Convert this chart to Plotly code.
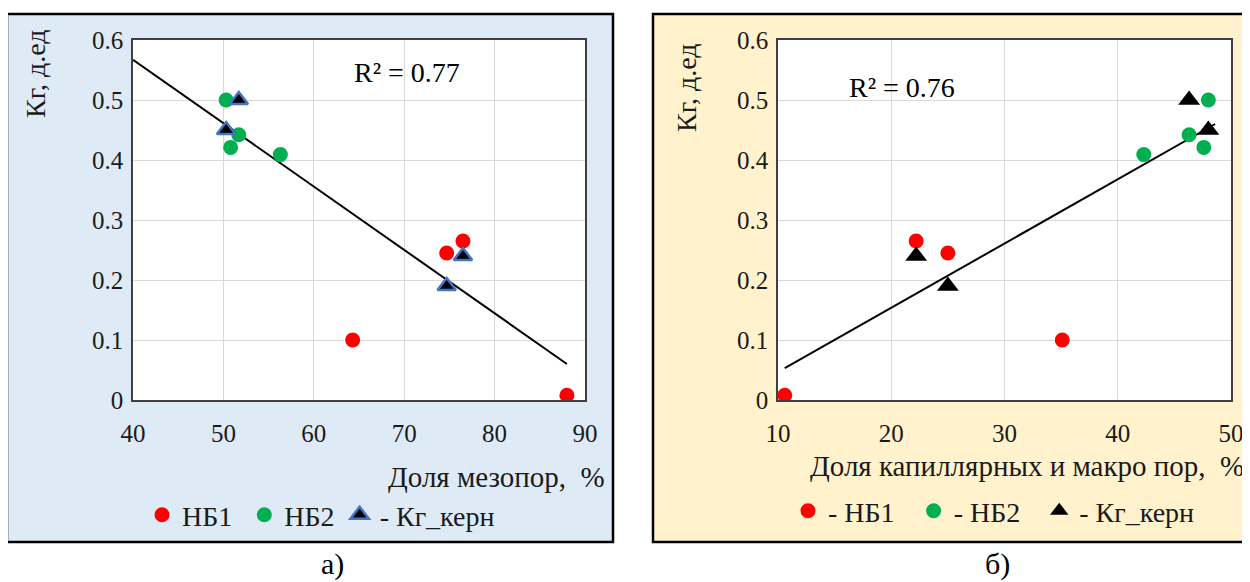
import plotly.graph_objects as go

# ---- data ----
# panel a) : mesopore share
a_nb1_x = [76.5, 74.7, 64.3, 88.0]
a_nb1_y = [0.265, 0.245, 0.100, 0.008]
a_nb2_x = [50.3, 51.7, 50.8, 56.3]
a_nb2_y = [0.500, 0.442, 0.421, 0.409]
a_core_x = [51.7, 50.3, 76.5, 74.7]
a_core_y = [0.500, 0.450, 0.240, 0.190]
a_trend_x = [40.0, 88.0]
a_trend_y = [0.567, 0.060]
a_r2 = "R² = 0.77"

# panel б) : capillary and macro pore share
b_nb1_x = [22.2, 25.0, 35.1, 10.6]
b_nb1_y = [0.265, 0.245, 0.100, 0.008]
b_nb2_x = [48.0, 46.3, 47.6, 42.3]
b_nb2_y = [0.500, 0.442, 0.421, 0.409]
b_core_x = [46.3, 48.0, 22.2, 25.0]
b_core_y = [0.500, 0.450, 0.240, 0.190]
b_trend_x = [10.6, 48.6]
b_trend_y = [0.053, 0.460]
b_r2 = "R² = 0.76"

y_ticks = [0, 0.1, 0.2, 0.3, 0.4, 0.5, 0.6]
y_ticklabels = ["0", "0.1", "0.2", "0.3", "0.4", "0.5", "0.6"]

W, H = 1250, 582
OFF = 8  # page body margin of the html page
FONT = "Liberation Serif"
TXT = "#1a1a1a"
RED = "#FF0000"
GREEN = "#00B050"
BLUE = "#4472C4"
NB = "\u00a0"


def px(x):
    return (x - OFF) / W


def py(y):
    return 1 - (y - OFF) / H


fig = go.Figure()

# panel a traces
fig.add_trace(go.Scatter(x=a_trend_x, y=a_trend_y, mode="lines", line=dict(color="black", width=2),
                         showlegend=False, hoverinfo="skip", xaxis="x", yaxis="y"))
fig.add_trace(go.Scatter(x=a_nb1_x, y=a_nb1_y, mode="markers", name="НБ1" + NB,
                         marker=dict(color=RED, size=15, symbol="circle"), xaxis="x", yaxis="y", legend="legend"))
fig.add_trace(go.Scatter(x=a_nb2_x, y=a_nb2_y, mode="markers", name="НБ2",
                         marker=dict(color=GREEN, size=15, symbol="circle"), xaxis="x", yaxis="y", legend="legend"))
fig.add_trace(go.Scatter(x=a_core_x, y=a_core_y, mode="markers", name="- Кг_керн",
                         marker=dict(color="black", size=16, symbol="triangle-up", line=dict(color=BLUE, width=2.5)),
                         xaxis="x", yaxis="y", legend="legend"))

# panel b traces
fig.add_trace(go.Scatter(x=b_trend_x, y=b_trend_y, mode="lines", line=dict(color="black", width=2),
                         showlegend=False, hoverinfo="skip", xaxis="x2", yaxis="y2"))
fig.add_trace(go.Scatter(x=b_nb1_x, y=b_nb1_y, mode="markers", name="- НБ1" + NB * 2,
                         marker=dict(color=RED, size=15, symbol="circle"), xaxis="x2", yaxis="y2", legend="legend2"))
fig.add_trace(go.Scatter(x=b_nb2_x, y=b_nb2_y, mode="markers", name="- НБ2" + NB * 2,
                         marker=dict(color=GREEN, size=15, symbol="circle"), xaxis="x2", yaxis="y2", legend="legend2"))
fig.add_trace(go.Scatter(x=b_core_x, y=b_core_y, mode="markers", name="- Кг_керн",
                         marker=dict(color="black", size=19, symbol="triangle-up", line=dict(color="black", width=0)),
                         xaxis="x2", yaxis="y2", legend="legend2"))

axis_common = dict(showgrid=True, gridcolor="#D9D9D9", gridwidth=1, zeroline=False, automargin=False,
                   showline=True, linecolor="#404040", linewidth=1.5, mirror=True,
                   ticks="", tickfont=dict(family=FONT, size=25, color=TXT))

fig.update_layout(
    template="none",
    width=W, height=H, autosize=False,
    margin=dict(l=0, r=0, t=0, b=0, pad=0, autoexpand=False),
    paper_bgcolor="white",
    plot_bgcolor="rgba(0,0,0,0)",
    font=dict(family=FONT, color=TXT),
    xaxis=dict(domain=[px(133), px(585)], range=[40, 90], dtick=10, tick0=40, anchor="y",
               ticklabelstandoff=10, **axis_common),
    yaxis=dict(domain=[py(400), py(40)], range=[0, 0.6], tickvals=y_ticks, ticktext=y_ticklabels,
               anchor="x", ticklabelstandoff=3, **axis_common),
    xaxis2=dict(domain=[px(778), px(1231)], range=[10, 50], dtick=10, tick0=10, anchor="y2",
                ticklabelstandoff=10, **axis_common),
    yaxis2=dict(domain=[py(400), py(40)], range=[0, 0.6], tickvals=y_ticks, ticktext=y_ticklabels,
                anchor="x2", ticklabelstandoff=3, **axis_common),
    legend=dict(orientation="h", x=px(142), y=py(515), xanchor="left", yanchor="middle",
                bgcolor="rgba(0,0,0,0)", borderwidth=0, font=dict(family=FONT, size=28, color=TXT),
                itemwidth=30, tracegroupgap=0),
    legend2=dict(orientation="h", x=px(788), y=py(511), xanchor="left", yanchor="middle",
                 bgcolor="rgba(0,0,0,0)", borderwidth=0, font=dict(family=FONT, size=28, color=TXT),
                 itemwidth=30, tracegroupgap=0),
    shapes=[
        dict(type="rect", xref="paper", yref="paper", x0=px(7), x1=px(613), y0=py(542), y1=py(14),
             fillcolor="#DEEBF7", line=dict(color="black", width=2.5), layer="below"),
        dict(type="rect", xref="paper", yref="paper", x0=px(653), x1=px(1270), y0=py(542), y1=py(14),
             fillcolor="#FFF2CC", line=dict(color="black", width=2.5), layer="below"),
        dict(type="rect", xref="paper", yref="paper", x0=px(133), x1=px(585), y0=py(400), y1=py(40),
             fillcolor="white", line=dict(width=0), layer="below"),
        dict(type="rect", xref="paper", yref="paper", x0=px(778), x1=px(1231), y0=py(400), y1=py(40),
             fillcolor="white", line=dict(width=0), layer="below"),
    ],
    annotations=[
        dict(text="Кг, д.ед", x=px(35), y=py(74), xref="paper", yref="paper", showarrow=False,
             textangle=-90, xanchor="center", yanchor="middle", font=dict(family=FONT, size=28, color=TXT)),
        dict(text="Кг, д.ед", x=px(687), y=py(88), xref="paper", yref="paper", showarrow=False,
             textangle=-90, xanchor="center", yanchor="middle", font=dict(family=FONT, size=28, color=TXT)),
        dict(text="Доля мезопор,  %", x=px(607), y=py(477), xref="paper", yref="paper", showarrow=False,
             xanchor="right", yanchor="middle", font=dict(family=FONT, size=29, color=TXT)),
        dict(text="Доля капиллярных и макро пор,  %", x=px(808), y=py(466), xref="paper", yref="paper",
             showarrow=False, xanchor="left", yanchor="middle", font=dict(family=FONT, size=29, color=TXT)),
        dict(text=a_r2, x=px(407), y=py(72), xref="paper", yref="paper", showarrow=False,
             xanchor="center", yanchor="middle", font=dict(family=FONT, size=28, color="black")),
        dict(text=b_r2, x=px(902), y=py(88), xref="paper", yref="paper", showarrow=False,
             xanchor="center", yanchor="middle", font=dict(family=FONT, size=28, color="black")),
        dict(text="а)", x=px(332), y=py(564), xref="paper", yref="paper", showarrow=False,
             xanchor="center", yanchor="middle", font=dict(family=FONT, size=30, color="black")),
        dict(text="б)", x=px(997), y=py(564), xref="paper", yref="paper", showarrow=False,
             xanchor="center", yanchor="middle", font=dict(family=FONT, size=30, color="black")),
    ],
)

fig.write_html("out.html")
